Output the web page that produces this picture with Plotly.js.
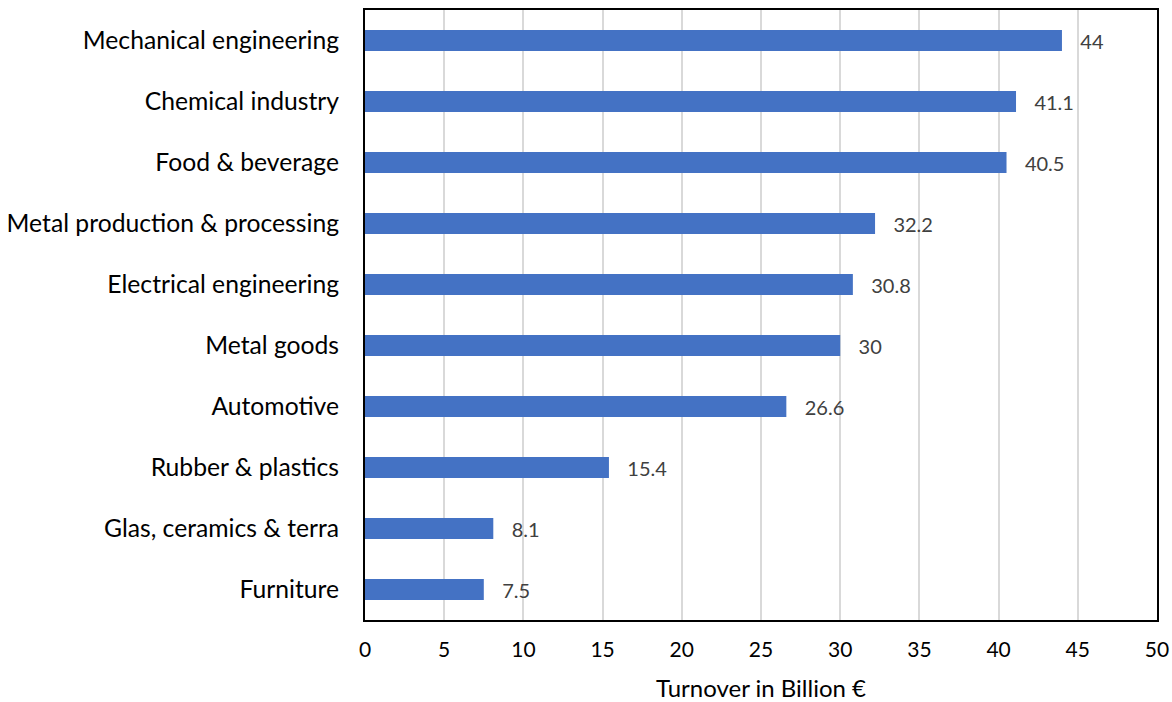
<!DOCTYPE html>
<html>
<head>
<meta charset="utf-8">
<script src="https://cdn.plot.ly/plotly-3.0.1.min.js"></script>
<style>
  html, body { margin: 0; padding: 0; background: #fff; }
  #chart { width: 1172px; height: 702px; }
</style>
</head>
<body>
<div id="chart"></div>
<script>
// Turnover by industry sector, billion euros
const sectors = [
  "Mechanical engineering",
  "Chemical industry",
  "Food & beverage",
  "Metal production & processing",
  "Electrical engineering",
  "Metal goods",
  "Automotive",
  "Rubber & plastics",
  "Glas, ceramics & terra",
  "Furniture"
];
const turnover = [44, 41.1, 40.5, 32.2, 30.8, 30, 26.6, 15.4, 8.1, 7.5];
const xTicks = [0, 5, 10, 15, 20, 25, 30, 35, 40, 45, 50];

const trace = {
  type: "bar",
  orientation: "h",
  y: sectors,
  x: turnover,
  marker: { color: "#4472C4" },
  texttemplate: "   %{x}",
  textposition: "outside",
  constraintext: "none",
  cliponaxis: false,
  textfont: { family: "Lato, sans-serif", size: 20, color: "#404040" },
  hoverinfo: "skip"
};

const layout = {
  width: 1172,
  height: 702,
  margin: { l: 365, r: 15, t: 10, b: 82 },
  paper_bgcolor: "#ffffff",
  plot_bgcolor: "#ffffff",
  bargap: 0.655,
  showlegend: false,
  font: { family: "Lato, sans-serif", color: "#000000" },
  xaxis: {
    range: [0, 50],
    tickvals: xTicks,
    ticktext: xTicks.map(String),
    showgrid: true,
    gridcolor: "#d9d9d9",
    gridwidth: 2,
    zeroline: false,
    showline: true,
    linecolor: "#000000",
    linewidth: 2,
    mirror: true,
    ticks: "",
    ticklabelstandoff: 10,
    tickfont: { size: 21, color: "#000000" },
    title: { text: "Turnover in Billion €", font: { size: 24, color: "#000000" }, standoff: 20 }
  },
  yaxis: {
    autorange: "reversed",
    showgrid: false,
    zeroline: false,
    showline: true,
    linecolor: "#000000",
    linewidth: 2,
    mirror: true,
    ticks: "",
    ticklabelstandoff: 19,
    tickfont: { size: 24.7, color: "#000000" }
  }
};

Plotly.newPlot("chart", [trace], layout, { displayModeBar: false, staticPlot: true });
</script>
</body>
</html>
